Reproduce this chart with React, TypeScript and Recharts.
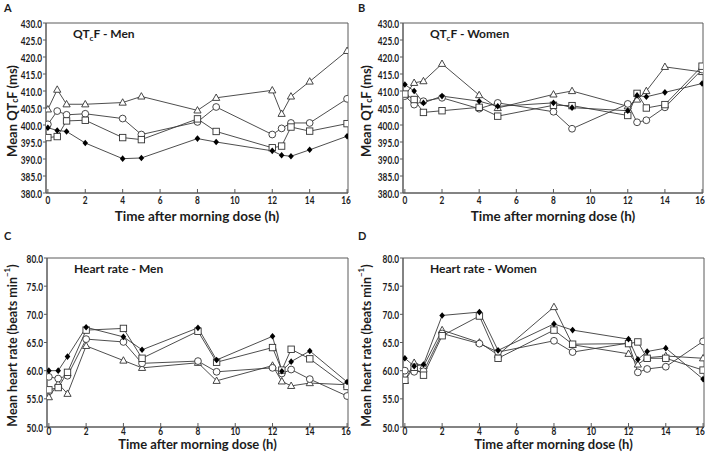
import React from "react";
import { LineChart, Line, XAxis, YAxis, ReferenceArea, Label } from "recharts";

// hours after the morning dose
const times = [0, 0.5, 1, 2, 4, 5, 8, 9, 12, 12.5, 13, 14, 16];
const timeTicks = [0, 2, 4, 6, 8, 10, 12, 14, 16];
const qtTicks = [380, 385, 390, 395, 400, 405, 410, 415, 420, 425, 430];
const hrTicks = [50, 55, 60, 65, 70, 75, 80];

// A: QTcF men
const qtMenDiamond = [399.2, 398.4, 398.1, 394.7, 390.1, 390.3, 396.0, 395.0, 392.4, 391.1, 390.8, 392.7, 396.7];
const qtMenSquare = [396.3, 396.6, 401.2, 401.4, 396.3, 395.7, 401.8, 398.1, 393.3, 393.8, 399.4, 398.2, 400.4];
const qtMenTriangle = [404.6, 410.4, 406.1, 406.1, 406.6, 408.4, 404.3, 408.0, 410.2, 403.3, 408.4, 412.8, 421.8];
const qtMenCircle = [400.2, 404.1, 403.0, 403.3, 401.9, 397.2, 400.9, 405.3, 397.2, 399.0, 400.6, 400.6, 407.7];

// B: QTcF women
const qtWomenDiamond = [411.9, 410.0, 406.5, 408.5, 407.0, 405.5, 406.5, 405.1, 404.2, 408.7, 408.3, 409.6, 412.2];
const qtWomenSquare = [409.1, 407.5, 403.7, 404.2, 405.2, 402.6, 405.8, 405.7, 402.8, 409.3, 405.0, 406.0, 417.3];
const qtWomenTriangle = [408.7, 412.4, 412.9, 418.0, 408.8, 405.0, 409.0, 410.0, 405.5, 407.5, 410.0, 417.1, 415.6];
const qtWomenCircle = [408.5, 406.0, 407.0, 408.0, 404.8, 406.5, 403.9, 398.9, 406.2, 400.8, 401.4, 405.2, 416.3];

// C: heart rate men
const hrMenDiamond = [60.0, 60.0, 62.5, 67.7, 66.0, 63.7, 67.6, 61.9, 66.1, 59.9, 61.6, 63.5, 58.0];
const hrMenSquare = [56.6, 57.0, 59.7, 67.2, 67.5, 62.2, 67.0, 61.5, 64.1, 60.1, 63.8, 62.1, 57.2];
const hrMenTriangle = [55.3, 57.7, 55.9, 64.4, 61.8, 60.5, 61.4, 58.2, 60.9, 58.1, 57.3, 57.8, 57.5];
const hrMenCircle = [58.9, 58.6, 59.1, 65.6, 65.1, 61.3, 61.7, 59.8, 60.5, 59.5, 60.2, 58.5, 55.5];

// D: heart rate women
const hrWomenDiamond = [62.2, 60.8, 61.1, 69.8, 70.4, 63.6, 68.3, 67.2, 65.6, 62.0, 63.4, 64.0, 58.5];
const hrWomenSquare = [58.3, 60.6, 59.2, 66.2, 69.7, 62.2, 67.2, 64.7, 64.8, 65.1, 62.2, 62.2, 60.1];
const hrWomenTriangle = [58.2, 61.4, 60.8, 67.2, 65.0, 62.8, 71.3, 64.6, 63.0, 61.1, 62.3, 62.6, 62.2];
const hrWomenCircle = [60.0, 59.8, 59.9, 66.6, 64.8, 63.3, 65.3, 63.3, 64.9, 59.7, 60.3, 60.7, 65.2];

const FONT = "Lato, 'Open Sans', sans-serif";
const INK = "#1c1c1c";
const FRAME = "#5a5a5a";

type Shape = "diamond" | "square" | "triangle" | "circle";

const marker = (shape: Shape) => (props: any) => {
    const { cx, cy, index } = props;
    if (cx == null || cy == null) return <g key={index} />;
    if (shape === "diamond") {
        return (
            <path
                key={index}
                d={`M${cx},${cy - 3.3}L${cx + 2.8},${cy}L${cx},${cy + 3.3}L${cx - 2.8},${cy}Z`}
                fill="#000"
            />
        );
    }
    if (shape === "square") {
        return (
            <rect key={index} x={cx - 3.2} y={cy - 3.2} width={6.4} height={6.4}
                fill="#fff" stroke="#333" strokeWidth={0.9} />
        );
    }
    if (shape === "triangle") {
        return (
            <path
                key={index}
                d={`M${cx},${cy - 3.8}L${cx + 3.6},${cy + 2.6}L${cx - 3.6},${cy + 2.6}Z`}
                fill="#fff" stroke="#333" strokeWidth={0.9}
            />
        );
    }
    return <circle key={index} cx={cx} cy={cy} r={3.4} fill="#fff" stroke="#333" strokeWidth={0.9} />;
};

// narrow bold tick text (the original uses a condensed face)
const squeeze = (x: number, y: number) => `translate(${x},${y}) scale(0.72,1) translate(${-x},${-y})`;

const YTick = (props: any) => {
    const { x, y, payload } = props;
    return (
        <text x={x} y={y} textAnchor="end" dominantBaseline="central" transform={squeeze(x, y)}
            fontFamily={FONT} fontWeight={700} fontSize={11.5} fill={INK}>
            {payload.value.toFixed(1)}
        </text>
    );
};

const XTick = (props: any) => {
    const { x, y, payload } = props;
    return (
        <text x={x} y={y} textAnchor="middle" dominantBaseline="hanging" transform={squeeze(x, y)}
            fontFamily={FONT} fontWeight={700} fontSize={11.5} fill={INK}>
            {payload.value}
        </text>
    );
};

type PanelProps = {
    letter: string;
    title: React.ReactNode;
    yLabel: React.ReactNode;
    yLabelSize: number;
    xLabelSize: number;
    yDomain: [number, number];
    yTicks: number[];
    series: { shape: Shape; values: number[] }[];
    top: number;
    left: number;
    right: number;
    xAxisHeight: number;
    xTickMargin: number;
    xLabelY: number;
};

function Panel(p: PanelProps) {
    const width = 354;
    const height = 228;
    const plotBottom = height - p.xAxisHeight;
    const labelMidY = (p.top + plotBottom) / 2 + 3;
    const plotMidX = (p.left + width - p.right) / 2;

    const data = times.map((t, i) => {
        const row: any = { t };
        p.series.forEach((s) => {
            row[s.shape] = s.values[i];
        });
        return row;
    });

    const extras = () => (
        <g fontFamily={FONT} fontWeight={700} fill={INK}>
            <text x={4} y={12} fontSize={11}>{p.letter}</text>
            <text x={p.left + 27} y={p.top + 15} fontSize={12}>{p.title}</text>
            <text
                x={12}
                y={labelMidY}
                fontSize={p.yLabelSize}
                textAnchor="middle"
                dominantBaseline="central"
                transform={`rotate(-90, 12, ${labelMidY})`}
            >
                {p.yLabel}
            </text>
            <text x={plotMidX} y={p.xLabelY} fontSize={p.xLabelSize} textAnchor="middle">
                Time after morning dose (h)
            </text>
        </g>
    );

    return (
        <LineChart
            width={width}
            height={height}
            data={data}
            margin={{ top: p.top, right: p.right, bottom: 0, left: 0 }}
        >
            <XAxis
                dataKey="t"
                type="number"
                domain={[-0.1, 16.05]}
                ticks={timeTicks}
                allowDataOverflow
                height={p.xAxisHeight}
                tickSize={-4}
                tickMargin={p.xTickMargin}
                axisLine={{ stroke: FRAME }}
                tickLine={{ stroke: FRAME }}
                tick={<XTick />}
            />
            <YAxis
                type="number"
                domain={p.yDomain}
                ticks={p.yTicks}
                width={p.left}
                tickSize={3}
                tickMargin={1}
                interval={0}
                axisLine={{ stroke: FRAME }}
                tickLine={{ stroke: FRAME }}
                tick={<YTick />}
            >
                <Label content={extras} />
            </YAxis>
            <ReferenceArea
                x1={-0.1}
                x2={16.05}
                y1={p.yDomain[0]}
                y2={p.yDomain[1]}
                fill="none"
                stroke={FRAME}
                strokeWidth={1}
            />
            {p.series.map((s) => (
                <Line
                    key={s.shape}
                    dataKey={s.shape}
                    stroke="#3a3a3a"
                    strokeWidth={0.9}
                    dot={marker(s.shape)}
                    activeDot={false}
                    isAnimationActive={false}
                />
            ))}
        </LineChart>
    );
}

const qtLabel = (
    <>
        Mean QT<tspan fontSize={8.5} dy={3}>c</tspan>
        <tspan dy={-3}>F (ms)</tspan>
    </>
);
const hrLabel = (
    <>
        Mean heart rate (beats min<tspan fontSize={8} dy={-5}>−1</tspan>
        <tspan dy={5}>)</tspan>
    </>
);
const qtTitle = (who: string) => (
    <>
        QT<tspan fontSize={8} dy={3}>c</tspan>
        <tspan dy={-3}>F - {who}</tspan>
    </>
);

export default function App() {
    return (
        <div style={{ position: "absolute", left: 0, top: 0, width: 708, height: 456, background: "#fff" }}>
            <div style={{ position: "absolute", left: 0, top: 0 }}>
                <Panel
                    letter="A"
                    title={qtTitle("Men")}
                    yLabel={qtLabel}
                    yLabelSize={13}
                    xLabelSize={13.5}
                    yDomain={[380, 430]}
                    yTicks={qtTicks}
                    series={[
                        { shape: "triangle", values: qtMenTriangle },
                        { shape: "circle", values: qtMenCircle },
                        { shape: "square", values: qtMenSquare },
                        { shape: "diamond", values: qtMenDiamond },
                    ]}
                    top={23}
                    left={46}
                    right={6}
                    xAxisHeight={35}
                    xTickMargin={6}
                    xLabelY={221}
                />
            </div>
            <div style={{ position: "absolute", left: 354, top: 0 }}>
                <Panel
                    letter="B"
                    title={qtTitle("Women")}
                    yLabel={qtLabel}
                    yLabelSize={13}
                    xLabelSize={13.5}
                    yDomain={[380, 430]}
                    yTicks={qtTicks}
                    series={[
                        { shape: "triangle", values: qtWomenTriangle },
                        { shape: "circle", values: qtWomenCircle },
                        { shape: "square", values: qtWomenSquare },
                        { shape: "diamond", values: qtWomenDiamond },
                    ]}
                    top={23}
                    left={49}
                    right={5}
                    xAxisHeight={35}
                    xTickMargin={6}
                    xLabelY={221}
                />
            </div>
            <div style={{ position: "absolute", left: 0, top: 228 }}>
                <Panel
                    letter="C"
                    title="Heart rate - Men"
                    yLabel={hrLabel}
                    yLabelSize={12.5}
                    xLabelSize={13}
                    yDomain={[50, 80]}
                    yTicks={hrTicks}
                    series={[
                        { shape: "triangle", values: hrMenTriangle },
                        { shape: "circle", values: hrMenCircle },
                        { shape: "square", values: hrMenSquare },
                        { shape: "diamond", values: hrMenDiamond },
                    ]}
                    top={30}
                    left={47}
                    right={6}
                    xAxisHeight={29}
                    xTickMargin={3}
                    xLabelY={221}
                />
            </div>
            <div style={{ position: "absolute", left: 354, top: 228 }}>
                <Panel
                    letter="D"
                    title="Heart rate - Women"
                    yLabel={hrLabel}
                    yLabelSize={12.5}
                    xLabelSize={13}
                    yDomain={[50, 80]}
                    yTicks={hrTicks}
                    series={[
                        { shape: "triangle", values: hrWomenTriangle },
                        { shape: "circle", values: hrWomenCircle },
                        { shape: "square", values: hrWomenSquare },
                        { shape: "diamond", values: hrWomenDiamond },
                    ]}
                    top={30}
                    left={49}
                    right={4}
                    xAxisHeight={29}
                    xTickMargin={3}
                    xLabelY={221}
                />
            </div>
        </div>
    );
}
